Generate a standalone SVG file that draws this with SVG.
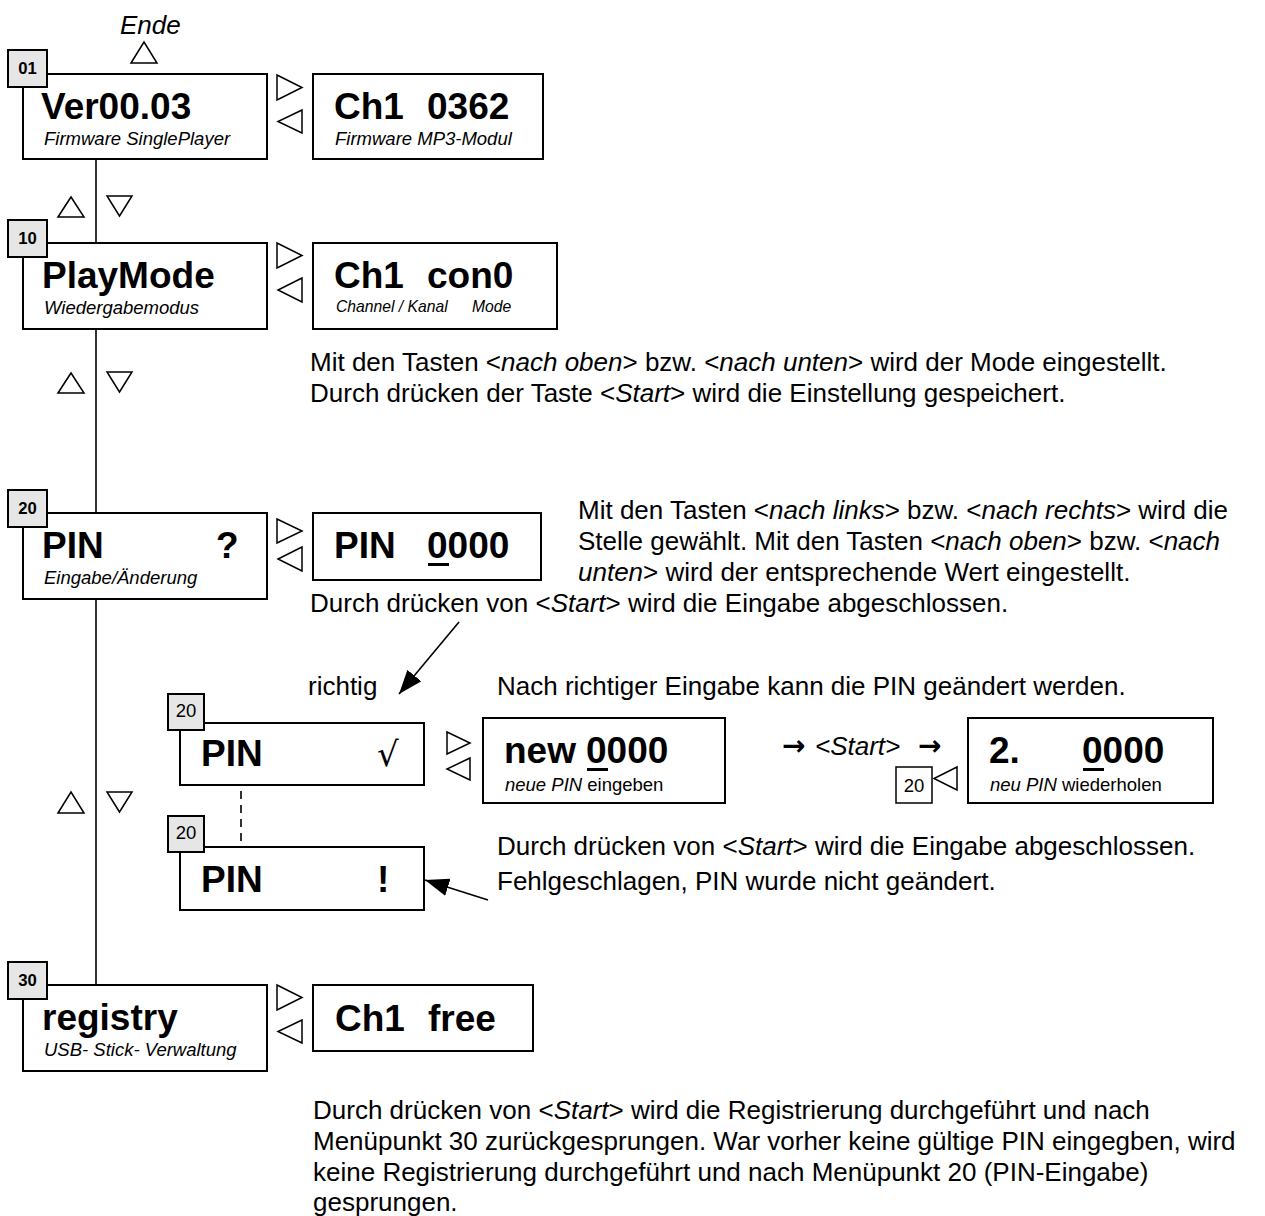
<svg xmlns="http://www.w3.org/2000/svg" width="1265" height="1216" viewBox="0 0 1265 1216">
<defs>
<style>
.box{fill:#fff;stroke:#000;stroke-width:2}
.lbl{fill:#e6e6e6;stroke:#000;stroke-width:2}
.lblw{fill:#fff;stroke:#000;stroke-width:1.5}
.tri{fill:#fff;stroke:#000;stroke-width:1.5;stroke-linejoin:miter}
.ln{fill:none;stroke:#000;stroke-width:1.6}
.ul{fill:#000}
text{font-family:"Liberation Sans",Arial,sans-serif;fill:#000}
.main{font-size:37px;font-weight:bold}
.sub{font-size:18.5px;font-style:italic}
.subr{font-size:18.5px}
.small{font-size:15.7px;font-style:italic}
.para{font-size:26px}
.lb{font-size:16.7px;font-weight:bold;text-anchor:middle}
.lr{font-size:18.5px;text-anchor:middle}
.i{font-style:italic}
.arr{font-family:"DejaVu Sans",sans-serif;font-style:normal;font-weight:bold;font-size:28px}
.sym{font-family:"DejaVu Serif","Liberation Serif",serif;font-size:34px}
</style>
<marker id="ah2" viewBox="0 0 24 18" refX="24" refY="9" markerWidth="24" markerHeight="18" markerUnits="userSpaceOnUse" orient="auto">
<path d="M0,0 L24,9 L0,18 z" fill="#000"/>
</marker>
</defs>

<g id="connectors">
<line class="ln" x1="96" y1="159" x2="96" y2="985"/>
<line class="ln" x1="241" y1="791" x2="241" y2="842" stroke-dasharray="8,6"/>
<line class="ln" x1="459" y1="622" x2="399" y2="694" marker-end="url(#ah2)"/>
<line class="ln" x1="488" y1="900" x2="425" y2="880" marker-end="url(#ah2)"/>
</g>

<g id="buttons">
<polygon class="tri" points="131,63 144,42 157,63"/>
<polygon class="tri" points="277,75 302,87.5 277,100"/>
<polygon class="tri" points="302,110 278,121.5 302,133"/>
<polygon class="tri" points="58,217 71,197 84,217"/>
<polygon class="tri" points="107,196 132,196 119.5,216"/>
<polygon class="tri" points="277,243 302,255.5 277,268"/>
<polygon class="tri" points="302,278 278,290 302,302"/>
<polygon class="tri" points="58,393 71,373 84,393"/>
<polygon class="tri" points="107,372 132,372 119.5,392"/>
<polygon class="tri" points="277,519 302,531 277,543"/>
<polygon class="tri" points="302,547 278,559 302,571"/>
<polygon class="tri" points="447,732 470,743 447,754"/>
<polygon class="tri" points="470,758 447,769 470,780"/>
<polygon class="tri" points="58,813 71,792 84,813"/>
<polygon class="tri" points="107,792 132,792 119.5,812"/>
<polygon class="tri" points="957,767 934,778.5 957,790"/>
<polygon class="tri" points="277,985 302,997.5 277,1010"/>
<polygon class="tri" points="302,1020 278,1031.5 302,1043"/>
</g>

<g id="ende"><text class="para i" x="120" y="34">Ende</text></g>

<g id="node01">
<rect class="box" x="23" y="74" width="244" height="85"/>
<rect class="lbl" x="8" y="50" width="39" height="37"/>
<text class="lb" x="27.5" y="74">01</text>
<text class="main" x="41" y="119">Ver00.03</text>
<text class="sub" x="44" y="145">Firmware SinglePlayer</text>
</g>

<g id="node01r">
<rect class="box" x="313" y="74" width="230" height="85"/>
<text class="main" x="334" y="119">Ch1<tspan x="427">0362</tspan></text>
<text class="sub" x="335" y="145">Firmware MP3-Modul</text>
</g>

<g id="node10">
<rect class="box" x="23" y="243" width="244" height="86"/>
<rect class="lbl" x="8" y="220" width="39" height="37"/>
<text class="lb" x="27.5" y="244">10</text>
<text class="main" x="42" y="288">PlayMode</text>
<text class="sub" x="44" y="314">Wiedergabemodus</text>
</g>

<g id="node10r">
<rect class="box" x="313" y="243" width="244" height="86"/>
<text class="main" x="334" y="288">Ch1<tspan x="427">con0</tspan></text>
<text class="small" x="336" y="312">Channel / Kanal<tspan x="472">Mode</tspan></text>
</g>

<text class="para" x="310" y="371">Mit den Tasten &lt;<tspan class="i">nach oben</tspan>&gt; bzw. &lt;<tspan class="i">nach unten</tspan>&gt; wird der Mode eingestellt.</text>
<text class="para" x="310" y="402">Durch drücken der Taste &lt;<tspan class="i">Start</tspan>&gt; wird die Einstellung gespeichert.</text>

<g id="node20">
<rect class="box" x="23" y="513" width="244" height="86"/>
<rect class="lbl" x="8" y="490" width="39" height="37"/>
<text class="lb" x="27.5" y="514">20</text>
<text class="main" x="42" y="558">PIN</text>
<text class="main" x="216" y="558">?</text>
<text class="sub" x="44" y="584">Eingabe/Änderung</text>
</g>

<g id="node20r">
<rect class="box" x="313" y="513" width="228" height="67"/>
<text class="main" x="334" y="558">PIN<tspan x="427">0000</tspan></text>
<rect class="ul" x="428" y="563" width="21" height="3"/>
</g>

<text class="para" x="578" y="519">Mit den Tasten &lt;<tspan class="i">nach links</tspan>&gt; bzw. &lt;<tspan class="i">nach rechts</tspan>&gt; wird die</text>
<text class="para" x="578" y="550">Stelle gewählt. Mit den Tasten &lt;<tspan class="i">nach oben</tspan>&gt; bzw. &lt;<tspan class="i">nach</tspan></text>
<text class="para" x="578" y="581"><tspan class="i">unten</tspan>&gt; wird der entsprechende Wert eingestellt.</text>
<text class="para" x="310" y="612">Durch drücken von &lt;<tspan class="i">Start</tspan>&gt; wird die Eingabe abgeschlossen.</text>

<text class="para" x="308" y="695">richtig</text>
<text class="para" x="497" y="695">Nach richtiger Eingabe kann die PIN geändert werden.</text>

<g id="pinok">
<rect class="box" x="180" y="723" width="244" height="62"/>
<rect class="lbl" x="168" y="694" width="36" height="36"/>
<text class="lr" x="186" y="717">20</text>
<text class="main" x="201" y="766">PIN</text>
<text class="sym" x="377" y="766">√</text>
</g>

<g id="newpin">
<rect class="box" x="483" y="718" width="242" height="85"/>
<text class="main" x="504" y="763">new<tspan x="586">0000</tspan></text>
<rect class="ul" x="587" y="768" width="21" height="3"/>
<text class="subr" x="505" y="791"><tspan class="i">neue PIN</tspan> eingeben</text>
</g>

<text class="para" x="782" y="755"><tspan class="arr">→</tspan><tspan x="815" class="i">&lt;Start&gt;</tspan><tspan x="918" class="arr">→</tspan></text>

<g id="ret20">
<rect class="lblw" x="896" y="767" width="36" height="36"/>
<text class="lr" x="914" y="792">20</text>
</g>

<g id="repin">
<rect class="box" x="968" y="718" width="245" height="85"/>
<text class="main" x="989" y="763">2.<tspan x="1082">0000</tspan></text>
<rect class="ul" x="1083" y="768" width="21" height="3"/>
<text class="subr" x="990" y="791"><tspan class="i">neu PIN</tspan> wiederholen</text>
</g>

<text class="para" x="497" y="855">Durch drücken von &lt;<tspan class="i">Start</tspan>&gt; wird die Eingabe abgeschlossen.</text>

<g id="pinfail">
<rect class="box" x="180" y="847" width="244" height="63"/>
<rect class="lbl" x="168" y="816" width="36" height="36"/>
<text class="lr" x="186" y="839">20</text>
<text class="main" x="201" y="892">PIN</text>
<text class="main" x="377" y="892">!</text>
</g>

<text class="para" x="497" y="890">Fehlgeschlagen, PIN wurde nicht geändert.</text>

<g id="node30">
<rect class="box" x="23" y="985" width="244" height="86"/>
<rect class="lbl" x="8" y="962" width="39" height="37"/>
<text class="lb" x="27.5" y="986">30</text>
<text class="main" x="42" y="1030">registry</text>
<text class="sub" x="44" y="1056">USB- Stick- Verwaltung</text>
</g>

<g id="node30r">
<rect class="box" x="313" y="985" width="220" height="66"/>
<text class="main" x="335" y="1031">Ch1<tspan x="428">free</tspan></text>
</g>

<text class="para" x="313" y="1119">Durch drücken von &lt;<tspan class="i">Start</tspan>&gt; wird die Registrierung durchgeführt und nach</text>
<text class="para" x="313" y="1150">Menüpunkt 30 zurückgesprungen. War vorher keine gültige PIN eingegben, wird</text>
<text class="para" x="313" y="1181">keine Registrierung durchgeführt und nach Menüpunkt 20 (PIN-Eingabe)</text>
<text class="para" x="313" y="1211">gesprungen.</text>
</svg>
